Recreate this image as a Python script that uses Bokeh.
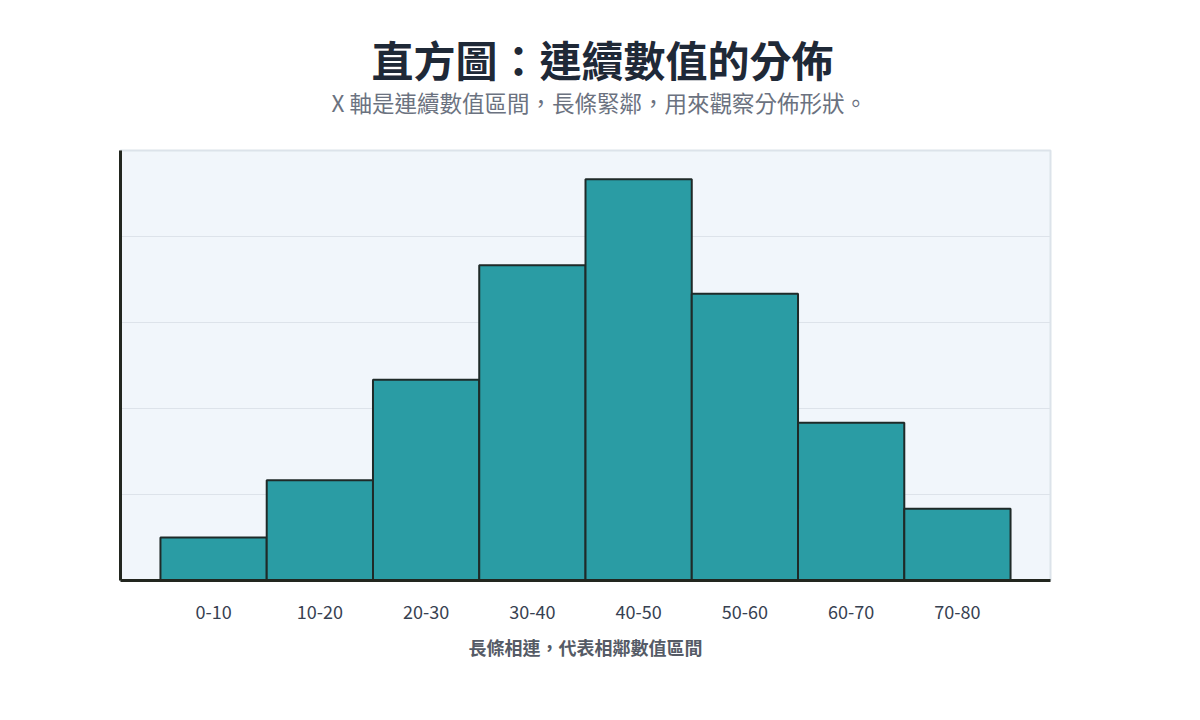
from bokeh.plotting import figure
from bokeh.models import FactorRange, Range1d, FixedTicker, Title
from bokeh.embed import file_html
from bokeh.resources import INLINE

categories = ["0-10", "10-20", "20-30", "30-40", "40-50", "50-60", "60-70", "70-80"]
counts = [3, 7, 14, 22, 28, 20, 11, 5]
y_ticks = [0, 6, 12, 18, 24, 30]

title_text = "直方圖：連續數值的分佈"
subtitle_text = "X 軸是連續數值區間，長條緊鄰，用來觀察分佈形狀。"
x_label = "長條相連，代表相鄰數值區間"

CJK = "Noto Sans CJK TC"

p = figure(
    x_range=FactorRange(*categories, range_padding=0.376, range_padding_units="absolute"),
    y_range=Range1d(0, 30),
    width=1184, height=704,
    output_backend="svg", toolbar_location=None, title=None,
    min_border_left=120, min_border_right=134, min_border_top=150, min_border_bottom=124,
    background_fill_color="#f1f6fb", border_fill_color="#ffffff",
)

p.vbar(x=categories, top=counts, width=1.0, fill_color="#2a9ca4",
       line_color="#1f2a28", line_width=2)

p.add_layout(Title(text=subtitle_text, align="left", offset=211, text_font=CJK,
                   text_font_size="22.5px", text_font_style="normal",
                   text_color="#6b7280", standoff=65), "above")
p.add_layout(Title(text=title_text, align="left", offset=251, text_font=CJK,
                   text_font_size="42px", text_font_style="bold",
                   text_color="#1f2937", standoff=-74), "above")

p.outline_line_color = "#dce3ea"
p.outline_line_width = 2

p.xgrid.grid_line_color = None
p.ygrid.grid_line_color = "#dde3ea"
p.ygrid.grid_line_width = 1
p.yaxis.ticker = FixedTicker(ticks=y_ticks)

p.yaxis.axis_line_color = "#22261f"
p.yaxis.axis_line_width = 3
p.yaxis.major_label_text_font_size = "0px"
p.yaxis.major_label_text_color = None
p.yaxis.major_tick_line_color = None
p.yaxis.minor_tick_line_color = None

p.xaxis.axis_line_color = "#22261f"
p.xaxis.axis_line_width = 3
p.xaxis.major_tick_line_color = None
p.xaxis.minor_tick_line_color = None
p.xaxis.major_label_text_font = CJK
p.xaxis.major_label_text_font_size = "18px"
p.xaxis.major_label_text_color = "#374151"
p.xaxis.major_label_standoff = 18
p.xaxis.axis_label = x_label
p.xaxis.axis_label_text_font = CJK
p.xaxis.axis_label_text_font_size = "18px"
p.xaxis.axis_label_text_font_style = "bold"
p.xaxis.axis_label_text_color = "#555b66"
p.xaxis.axis_label_standoff = 12

open("out.html", "w").write(file_html(p, INLINE))
